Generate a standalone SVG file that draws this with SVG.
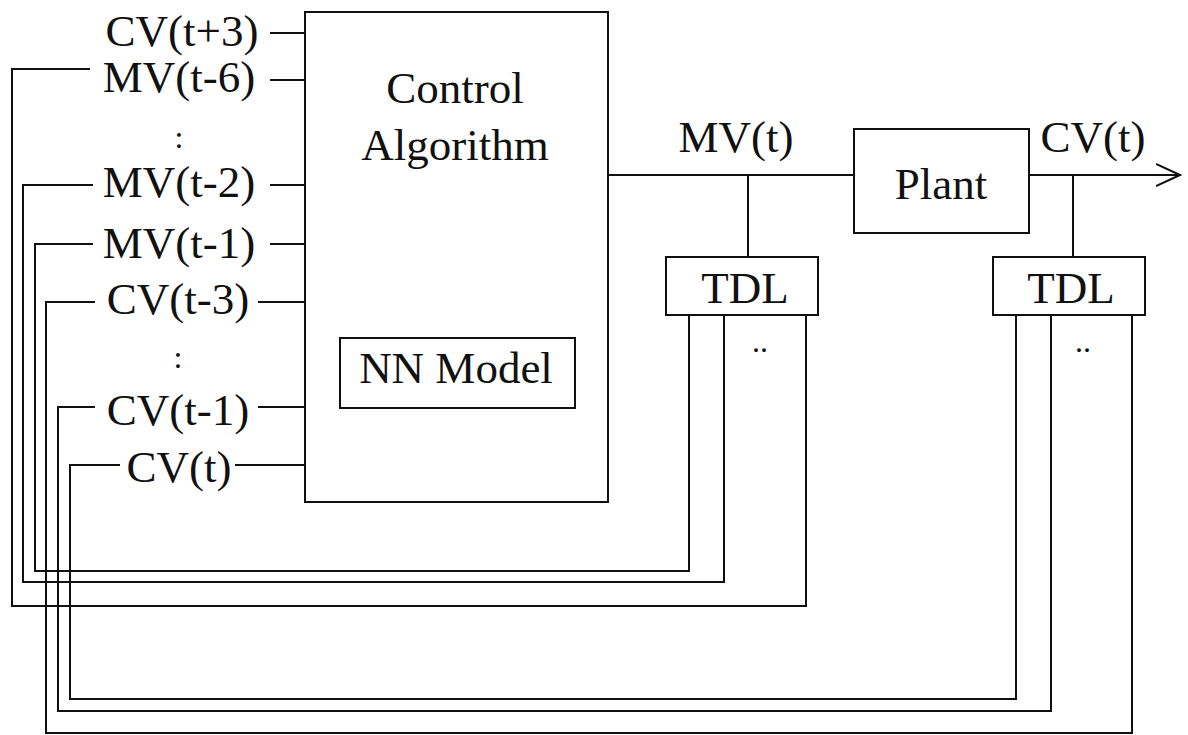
<svg xmlns="http://www.w3.org/2000/svg" width="1188" height="735" viewBox="0 0 1188 735">
<style>
.t{font-family:"Liberation Serif","Times New Roman",serif;font-size:45px;fill:#111;text-anchor:middle}
.d{font-family:"Liberation Serif","Times New Roman",serif;font-size:32px;fill:#111;text-anchor:middle}
.b{fill:#fff;stroke:#111;stroke-width:2}
.w{fill:none;stroke:#111;stroke-width:2}
</style>
<defs>
<marker id="arr" markerWidth="26" markerHeight="24" refX="24" refY="12" orient="auto" markerUnits="userSpaceOnUse">
<path d="M0,1 L24,12 L0,23" fill="none" stroke="#111" stroke-width="2"/>
</marker>
</defs>
<rect width="1188" height="735" fill="#fff"/>
<g id="connectors">
<!-- stubs into control box -->
<path class="w" d="M270,33H305 M270,80H305 M270,185H305 M270,244H305 M258,302H305 M258,407H305 M235,465H305"/>
<!-- MV(t) line -->
<path class="w" d="M608,175H854 M748,175V257"/>
<!-- CV(t) output -->
<path class="w" d="M1029,175H1180" marker-end="url(#arr)"/>
<path class="w" d="M1073,175V257"/>
<!-- feedback loops MV -->
<path class="w" d="M689,315V571H35V244H93"/>
<path class="w" d="M724,315V582H23V185H93"/>
<path class="w" d="M806,315V606H12V69H90"/>
<!-- feedback loops CV -->
<path class="w" d="M1016,315V699H70V465H120"/>
<path class="w" d="M1051,315V711H58V407H95"/>
<path class="w" d="M1132,315V733H46V302H95"/>
</g>
<g id="labels">
<text class="t" x="182" y="46">CV(t+3)</text>
<text class="t" x="179" y="92">MV(t-6)</text>
<text class="d" x="179" y="148">:</text>
<text class="t" x="179" y="197">MV(t-2)</text>
<text class="t" x="179" y="258">MV(t-1)</text>
<text class="t" x="178" y="314">CV(t-3)</text>
<text class="d" x="178" y="368">:</text>
<text class="t" x="178" y="425">CV(t-1)</text>
<text class="t" x="179" y="482">CV(t)</text>
<text class="t" x="736" y="152">MV(t)</text>
<text class="t" x="1093" y="152">CV(t)</text>
</g>
<g id="control">
<rect class="b" x="305" y="12" width="303" height="490"/>
<text class="t" x="455" y="103">Control</text>
<text class="t" x="455" y="160">Algorithm</text>
</g>
<g id="nnmodel">
<rect class="b" x="340" y="338" width="235" height="70"/>
<text class="t" x="456" y="383">NN Model</text>
</g>
<g id="plant">
<rect class="b" x="854" y="129" width="175" height="104"/>
<text class="t" x="941" y="199">Plant</text>
</g>
<g id="tdl1">
<rect class="b" x="666" y="257" width="152" height="58"/>
<text class="t" x="745" y="303">TDL</text>
<text class="d" x="760" y="352">..</text>
</g>
<g id="tdl2">
<rect class="b" x="993" y="257" width="152" height="58"/>
<text class="t" x="1071" y="303">TDL</text>
<text class="d" x="1083" y="352">..</text>
</g>
</svg>
